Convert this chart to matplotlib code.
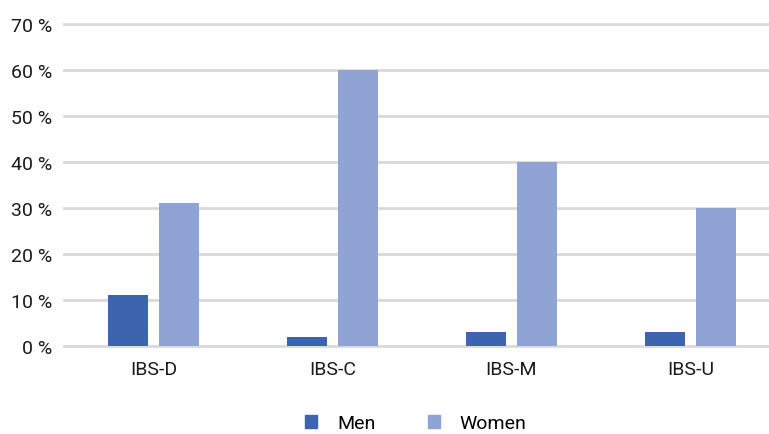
import numpy as np
import matplotlib.pyplot as plt
from matplotlib.patches import Patch

categories = ["IBS-D", "IBS-C", "IBS-M", "IBS-U"]
men = [11, 2, 3, 3]
women = [31, 60, 40, 30]
yticks = [0, 10, 20, 30, 40, 50, 60, 70]

men_color = "#3d64ae"
women_color = "#8fa4d5"

plt.rcParams["font.family"] = ["Roboto", "DejaVu Sans"]

fig = plt.figure(figsize=(7.69, 4.35), dpi=100)
ax = fig.add_axes([64 / 769, 88 / 435, 705 / 769, 322 / 435])

x = np.arange(len(categories))
w = 0.225
ax.bar(x - 0.142, men, width=w, color=men_color, zorder=3)
ax.bar(x + 0.142, women, width=w, color=women_color, zorder=3)

ax.set_xlim(-0.5, 3.44)
ax.set_ylim(0, 70)
ax.set_yticks(yticks)
ax.set_yticklabels([f"{t} %" for t in yticks], fontsize=14, color="#1a1a1a")
ax.set_xticks(x)
ax.set_xticklabels(categories, fontsize=14, color="#1a1a1a")
ax.tick_params(axis="y", length=0, pad=8.5)
ax.tick_params(axis="x", length=0, pad=10)
ax.grid(axis="y", color="#d9d9d9", linewidth=2, zorder=0)
for gl in ax.get_ygridlines():
    gl.set_clip_on(False)
ax.set_axisbelow(True)
for s in ax.spines.values():
    s.set_visible(False)

handles = [Patch(color=men_color, label="Men"), Patch(color=women_color, label="Women")]
fig.legend(handles=handles, loc="center", bbox_to_anchor=(0.541, 0.025),
           ncol=2, frameon=False, fontsize=14, handlelength=0.62,
           handleheight=0.62, columnspacing=2.67, handletextpad=1.03)

fig.savefig("out.png", dpi=100)
